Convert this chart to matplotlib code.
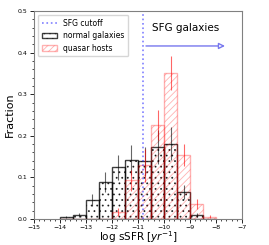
import numpy as np
import matplotlib
matplotlib.use("Agg")
import matplotlib.pyplot as plt

# bin left edges (width 0.5) and fractions
bin_left = [-14.0, -13.5, -13.0, -12.5, -12.0, -11.5, -11.0, -10.5, -10.0, -9.5, -9.0, -8.5]
normal_frac = [0.005, 0.010, 0.045, 0.089, 0.124, 0.142, 0.139, 0.173, 0.181, 0.066, 0.010, 0.0]
normal_err = [0.003, 0.005, 0.014, 0.024, 0.031, 0.035, 0.035, 0.040, 0.040, 0.017, 0.004, 0.0]
quasar_frac = [0.0, 0.0, 0.0, 0.0, 0.017, 0.093, 0.129, 0.226, 0.352, 0.154, 0.036, 0.006]
quasar_err = [0.0, 0.0, 0.0, 0.0, 0.010, 0.025, 0.040, 0.035, 0.041, 0.027, 0.012, 0.004]
cutoff = -10.8
width = 0.5

left = np.array(bin_left)
centers = left + width / 2

plt.rcParams['hatch.linewidth'] = 0.6
fig = plt.figure(figsize=(2.69, 2.45), dpi=100)
ax = fig.add_axes([0.126, 0.106, 0.774, 0.849])

ax.bar(left, normal_frac, width=width, align='edge', facecolor='none',
       edgecolor='black', hatch='...', linewidth=1.0, alpha=0.75, label='normal galaxies')
ax.bar(left, quasar_frac, width=width, align='edge', facecolor='none',
       edgecolor='red', hatch='/////', linewidth=1.0, alpha=0.3, label='quasar hosts')
ax.errorbar(centers, normal_frac, yerr=normal_err, fmt='none', ecolor='black', elinewidth=0.8, alpha=0.6)
ax.errorbar(centers, quasar_frac, yerr=quasar_err, fmt='none', ecolor='red', elinewidth=0.8, alpha=0.6)

ax.axvline(cutoff, color='blue', linestyle=':', linewidth=1.2, alpha=0.5, label='SFG cutoff')
ax.annotate('', xy=(-7.55, 0.416), xytext=(cutoff, 0.416),
            arrowprops=dict(arrowstyle='-|>', edgecolor='#7777ee', lw=1.0,
                            facecolor='white', mutation_scale=9))
ax.text(-10.48, 0.452, 'SFG galaxies', fontsize=7.5, color='black', va='baseline')

ax.set_xlim(-15, -7)
ax.set_ylim(0, 0.5)
ax.set_xticks(np.arange(-15, -6, 1))
ax.set_yticks(np.arange(0, 0.51, 0.1))
ax.set_xticks(np.arange(-15, -7, 0.2), minor=True)
ax.set_yticks(np.arange(0, 0.5, 0.02), minor=True)
ax.tick_params(labelsize=4.5, length=3, width=0.6, pad=1.5)
ax.tick_params(which='minor', length=1.5, width=0.5)
for s in ax.spines.values():
    s.set_color('grey')
    s.set_linewidth(0.8)

ax.set_xlabel('log sSFR [$yr^{-1}$]', fontsize=7.5, labelpad=-1)
ax.set_ylabel('Fraction', fontsize=8, labelpad=2)

h, l = ax.get_legend_handles_labels()
order = [l.index('SFG cutoff'), l.index('normal galaxies'), l.index('quasar hosts')]
ax.legend([h[i] for i in order], [l[i] for i in order], loc='upper left',
          fontsize=5.5, handlelength=2.0, borderpad=0.5, labelspacing=0.45)

fig.savefig('out.png', dpi=100)
